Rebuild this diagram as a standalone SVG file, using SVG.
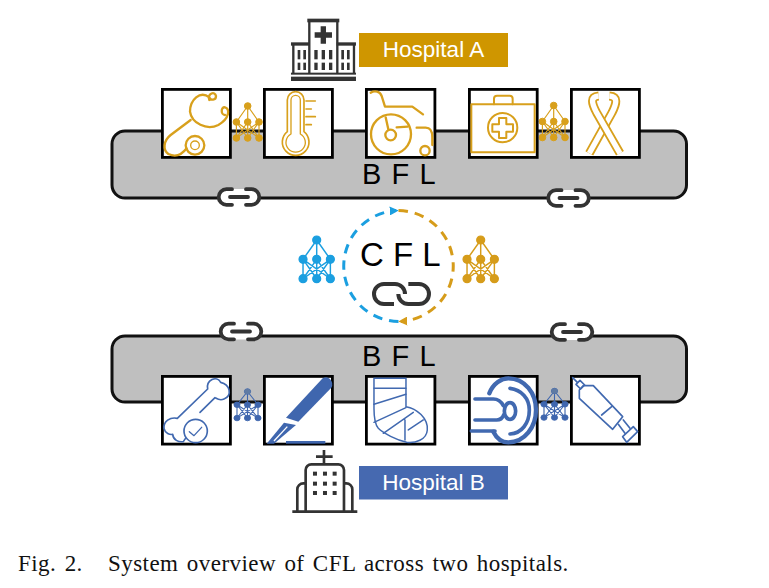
<svg xmlns="http://www.w3.org/2000/svg" xmlns:xlink="http://www.w3.org/1999/xlink" width="769" height="588" viewBox="0 0 769 588">
<style>
.belt{fill:#bfbfbf;stroke:#111;stroke-width:3}
.box{fill:#fff;stroke:#000;stroke-width:2.8}
.g{fill:none;stroke:#d8a01c;stroke-linecap:round;stroke-linejoin:round}
.b{fill:none;stroke:#4169b0;stroke-linecap:round;stroke-linejoin:round}
.dk{fill:none;stroke:#333;stroke-linejoin:round}
.sans{font-family:"Liberation Sans",Arial,sans-serif}
.bfl{font-size:29px;fill:#000;letter-spacing:1.1px}
.lab{font-size:22.5px;fill:#fff;text-anchor:middle}
.cap{font-family:"Liberation Serif","Times New Roman",serif;font-size:23px;fill:#111;letter-spacing:.45px;word-spacing:2.2px}
.netl{fill:none;stroke-width:1.2}
</style>
<defs>
<g id="net">
<path class="netl" d="M0 0L-11.3 16M0 0V16M0 0L11.3 16M-11.3 16V32M0 16V32M11.3 16V32M-11.3 16L0 32M-11.3 16L11.3 32M0 16L-11.3 32M0 16L11.3 32M11.3 16L0 32M11.3 16L-11.3 32"/>
<circle cx="0" cy="0" r="3.3"/><circle cx="-11.3" cy="16" r="3.3"/><circle cx="0" cy="16" r="3.3"/><circle cx="11.3" cy="16" r="3.3"/><circle cx="-11.3" cy="32" r="3.3"/><circle cx="0" cy="32" r="3.3"/><circle cx="11.3" cy="32" r="3.3"/>
</g>
<g id="link">
<rect x="-20" y="-8" width="40" height="16" rx="8" fill="#fff"/>
<path fill="none" stroke="#333" stroke-width="3.8" stroke-linecap="round" d="M-7 -7.8H-12.500a7.800 7.800 0 0 0 0 15.600H-7M7 -7.800H12.500a7.800 7.800 0 0 1 0 15.600H7M-9 0H9"/>
</g>
<marker id="ab" viewBox="0 0 10 10" refX="7" refY="5" markerWidth="9" markerHeight="9" markerUnits="userSpaceOnUse" orient="auto"><path d="M0 0L10 5L0 10z" fill="#1b9fe0"/></marker>
<marker id="ag" viewBox="0 0 10 10" refX="7" refY="5" markerWidth="9" markerHeight="9" markerUnits="userSpaceOnUse" orient="auto"><path d="M0 0L10 5L0 10z" fill="#d69c1a"/></marker>
</defs>

<g id="belt-a"><rect class="belt" x="112" y="131" width="574.500" height="67" rx="13"/></g>
<g id="belt-b"><rect class="belt" x="112" y="336" width="574.500" height="66" rx="13"/></g>

<g id="connectors">
<use xlink:href="#link" href="#link" x="239" y="197"/>
<use xlink:href="#link" href="#link" x="568.500" y="198"/>
<use xlink:href="#link" href="#link" x="241" y="331.500"/>
<use xlink:href="#link" href="#link" x="572" y="332"/>
<path d="M398.500 321.500A55.500 55.500 0 0 1 396 210.600" fill="none" stroke="#1b9fe0" stroke-width="3" stroke-dasharray="9.500 7" marker-end="url(#ab)"/>
<path d="M398.500 210.500A55.500 55.500 0 0 1 401 321.400" fill="none" stroke="#d69c1a" stroke-width="3" stroke-dasharray="9.500 7" marker-end="url(#ag)"/>
</g>

<g id="net-a1" fill="#d8a01c" stroke="#d8a01c" transform="translate(247.700 106)"><use xlink:href="#net" href="#net"/></g>
<g id="net-a2" fill="#d8a01c" stroke="#d8a01c" transform="translate(553.700 105.500)"><use xlink:href="#net" href="#net"/></g>
<g id="net-b1" fill="#3f66ae" stroke="#3f66ae" transform="translate(247.500 391.500) scale(.93 .83)"><use xlink:href="#net" href="#net"/><circle r="3.400" fill="#5f7aa3" stroke="none"/></g>
<g id="net-b2" fill="#3f66ae" stroke="#3f66ae" transform="translate(554.500 391) scale(.93 .83)"><use xlink:href="#net" href="#net"/><circle r="3.400" fill="#5f7aa3" stroke="none"/></g>

<g id="node-stethoscope"><rect class="box" x="162.400" y="89.400" width="68" height="68"/>
<g transform="translate(150 10) scale(.3333)" class="g" stroke-width="7">
<path d="M178 270C172 250 195 242 198 258C198 272 182 272 178 262C150 240 120 270 120 305C125 340 170 362 205 345C240 325 240 295 225 292C212 290 212 315 225 315"/>
<path d="M122 330L62 375C40 392 38 420 55 432C75 442 95 435 110 415"/>
<circle cx="135" cy="406" r="28"/><circle cx="135" cy="406" r="13" stroke-width="4"/>
</g></g>

<g id="node-thermometer"><rect class="box" x="264.400" y="89.400" width="68" height="68"/>
<g transform="translate(150 10) scale(.3333)" class="g" stroke-width="5">
<path d="M412 365V270a25 25 0 0 1 50 0V365a40 40 0 1 1 -50 0z"/>
<path d="M423 372V270a14 14 0 0 1 28 0V372a29 29 0 1 1 -28 0z" stroke-width="4"/>
<path d="M468 273H496M468 297H484M468 320H496M468 344H484"/>
</g></g>

<g id="node-wheelchair"><rect class="box" x="366.400" y="89.400" width="68.500" height="68"/>
<g transform="translate(355 80) scale(.3333)" class="g" stroke-width="7">
<path d="M47 38C60 30 75 35 80 48L90 80H172L204 103"/>
<circle cx="108" cy="163" r="60"/><circle cx="107" cy="165" r="16"/>
<path d="M92 112L100 148M125 142L158 140M185 143H212C228 143 232 158 232 172V195"/>
<circle cx="210" cy="212" r="14"/>
</g></g>

<g id="node-medkit"><rect class="box" x="469.400" y="89.400" width="67.800" height="68"/>
<g transform="translate(400 70) scale(.3333)" class="g" stroke-width="6">
<rect x="214" y="103" width="190" height="144"/>
<path d="M282 103V86a9 9 0 0 1 9 -9h38a9 9 0 0 1 9 9V103"/>
<circle cx="308" cy="173" r="44"/>
<path d="M297 144H319V163H339V185H319V204H297V185H277V163H297Z"/>
</g></g>

<g id="node-ribbon"><rect class="box" x="571.400" y="89.400" width="68" height="68"/>
<g transform="translate(400 70) scale(.3333)" fill="none" stroke-linejoin="round">
<path d="M628 78C655 80 650 100 636 128L568 250" stroke="#d8a01c" stroke-width="27"/>
<path d="M628 78C655 80 650 100 636 128L568 250" stroke="#fff" stroke-width="16"/>
<path d="M596 78C570 80 575 100 590 128L660 250" stroke="#d8a01c" stroke-width="27"/>
<path d="M596 78C570 80 575 100 590 128L660 250" stroke="#fff" stroke-width="16"/>
</g></g>

<g id="node-bone"><rect class="box" x="162.400" y="376.400" width="68" height="67.700"/>
<g transform="translate(150 365) scale(.3333)" class="b" stroke-width="5">
<path d="M173 72C168 45 200 30 212 52C240 58 248 92 222 102C210 108 202 102 195 98L150 142M82 160C60 155 40 170 42 190C45 205 60 210 68 208C70 225 85 232 100 230L110 215M173 72L82 160"/>
<circle cx="137" cy="198" r="35" fill="#fff"/>
<path d="M118 200L132 212L155 187" stroke-width="4"/>
</g></g>

<g id="node-scalpel"><rect class="box" x="264.400" y="376.400" width="68" height="67.700"/>
<g transform="translate(150 365) scale(.3333)">
<path d="M518 40Q530 32 540 42Q552 55 544 68L445 170L408 158Z" fill="#3f66ae"/>
<path d="M402 173L438 180L372 236H350Z" fill="#3f66ae"/>
<path d="M372 228L412 185" stroke="#fff" stroke-width="4" fill="none"/>
<rect x="408" y="228" width="118" height="8" fill="#3f66ae"/>
</g></g>

<g id="node-cast"><rect class="box" x="366.400" y="376.400" width="68.500" height="67.700"/>
<g transform="translate(150 365) scale(.3333)" class="b" stroke-width="4.500">
<path d="M672 40H768V125C800 130 835 160 832 195C830 225 795 235 770 232C740 225 700 205 685 190C672 175 672 150 672 130Z"/>
<path d="M672 70H768M672 118L768 88M672 172L768 128M700 205L790 142M765 165V225M775 195L820 165"/>
</g></g>

<g id="node-mri"><rect class="box" x="469.400" y="376.400" width="67.800" height="67.700"/>
<g transform="translate(430 365) scale(.3333)" class="b" stroke-width="13">
<path d="M178 85C190 55 215 40 235 40C285 40 318 85 318 135C318 185 285 232 235 232C215 232 200 220 190 200"/>
<path d="M240 70C275 75 298 100 298 135C298 175 275 205 240 207" stroke-width="11"/>
<ellipse cx="240" cy="138" rx="17" ry="25" stroke-width="11"/>
<path d="M135 102H190C205 102 215 112 220 122M135 165H200C212 165 218 158 221 150M124 198H195" stroke-width="11"/>
</g></g>

<g id="node-syringe"><rect class="box" x="571.400" y="376.400" width="68" height="67.700"/>
<g transform="translate(430 365) scale(.3333)" class="b" stroke-width="5">
<path d="M428 38L442 52"/>
<path d="M438 58L450 46L464 60L452 72Z"/>
<path d="M460 62H490L578 155L548 193L448 100V75Z"/>
<path d="M515 150L545 125M565 178L585 205M580 165L600 190"/>
<path d="M578 215L610 185L623 200L590 232Z"/>
</g></g>

<g id="hospital-a">
<g transform="translate(150 10) scale(.3333)">
<g fill="#333">
<rect x="423" y="200" width="195" height="13"/><rect x="423" y="188" width="195" height="6"/>
<rect x="472" y="26" width="96" height="11"/><rect x="423" y="97" width="57" height="10"/><rect x="560" y="97" width="58" height="10"/>
<path d="M512 49H528V67H546V83H528V101H512V83H494V67H512Z"/>
<rect x="443" y="120" width="8" height="28"/><rect x="460" y="120" width="8" height="28"/><rect x="443" y="158" width="8" height="22"/><rect x="460" y="158" width="8" height="22"/>
<rect x="574" y="120" width="8" height="28"/><rect x="591" y="120" width="8" height="28"/><rect x="574" y="158" width="8" height="22"/><rect x="591" y="158" width="8" height="22"/>
<rect x="493" y="120" width="10" height="28"/><rect x="515" y="120" width="10" height="28"/><rect x="537" y="120" width="10" height="28"/>
<rect x="493" y="158" width="10" height="22"/><rect x="515" y="158" width="10" height="22"/><rect x="537" y="158" width="10" height="22"/>
</g>
<path class="dk" stroke-width="7" d="M478 190V35M562 190V35M430 190V105M612 190V105"/>
</g></g>
<g id="label-a"><rect x="359" y="33" width="149" height="34" fill="#cf9600"/><text class="sans lab" x="433.500" y="57">Hospital A</text></g>

<g id="hospital-b">
<g transform="translate(150 365) scale(.3333)">
<path class="dk" stroke-width="8" d="M522 255V298M498 275H548M467 440V315a17 17 0 0 1 17 -17H565a17 17 0 0 1 17 17V440M467 355H460a18 18 0 0 0 -18 18V440M582 355H589a18 18 0 0 1 18 18V440M427 440H622"/>
<g fill="#333">
<rect x="489" y="320" width="12" height="12"/><rect x="519" y="320" width="12" height="12"/><rect x="548" y="320" width="12" height="12"/>
<rect x="489" y="350" width="12" height="12"/><rect x="519" y="350" width="12" height="12"/><rect x="548" y="350" width="12" height="12"/>
<rect x="489" y="378" width="12" height="12"/><rect x="519" y="378" width="12" height="12"/><rect x="548" y="378" width="12" height="12"/>
</g></g></g>
<g id="label-b"><rect x="359" y="466" width="149" height="33.500" fill="#4669b0"/><text class="sans lab" x="433.500" y="490">Hospital B</text></g>

<g id="bfl-a"><text class="sans bfl" x="362" y="184">B F L</text></g>
<g id="bfl-b"><text class="sans bfl" x="362" y="366">B F L</text></g>

<g id="cfl"><text class="sans" x="360" y="265.700" font-size="33" fill="#000">C F L</text>
<path transform="translate(280 200) scale(.3333)" fill="none" stroke="#333" stroke-width="12" d="M342 312H312a30 30 0 0 1 0 -60H345a30 30 0 0 1 30 30M385 252H417a30 30 0 0 1 0 60H385a30 30 0 0 1 -30 -30"/>
</g>
<g id="net-cfl-blue" fill="#1b9fe0" stroke="#1b9fe0" transform="translate(316.700 240) scale(1.21)"><use xlink:href="#net" href="#net"/></g>
<g id="net-cfl-gold" fill="#d69c1a" stroke="#d69c1a" transform="translate(480.700 240) scale(1.21)"><use xlink:href="#net" href="#net"/></g>

<text class="cap" x="18" y="571">Fig. 2.</text>
<text class="cap" x="108" y="571">System overview of CFL across two hospitals.</text>
</svg>
